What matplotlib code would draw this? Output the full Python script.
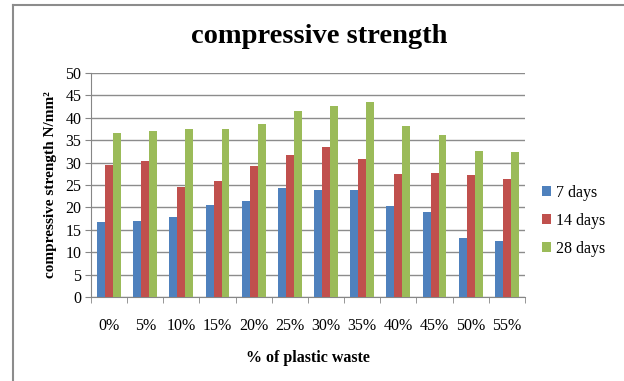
import numpy as np
import matplotlib.pyplot as plt
from matplotlib.lines import Line2D

# ----------------------------------
# Data
# ----------------------------------
categories = ["0%", "5%", "10%", "15%", "20%", "25%",
              "30%", "35%", "40%", "45%", "50%", "55%"]
days_7 = [16.8, 17.0, 17.9, 20.5, 21.4, 24.3, 23.9, 23.9, 20.3, 19.0, 13.2, 12.6]
days_14 = [29.5, 30.4, 24.6, 25.9, 29.3, 31.7, 33.5, 30.9, 27.5, 27.7, 27.2, 26.3]
days_28 = [36.7, 37.0, 37.6, 37.6, 38.7, 41.6, 42.6, 43.5, 38.2, 36.2, 32.7, 32.4]
series_labels = ["7 days", "14 days", "28 days"]
colors = ["#4F81BD", "#C0504D", "#9BBB59"]

plt.rcParams['font.family'] = ['Liberation Serif', 'DejaVu Serif']

fig = plt.figure(figsize=(6.24, 3.81), dpi=100)
ax = fig.add_axes([0.1458, 0.2205, 0.6955, 0.5879])

x = np.arange(len(categories))
width = 0.22
for i, (vals, lab, col) in enumerate(zip([days_7, days_14, days_28], series_labels, colors)):
    ax.bar(x + (i - 1) * width, vals, width, color=col, label=lab, zorder=3,
           edgecolor="none")

ax.set_xlim(-0.5, len(categories) - 0.5)
ax.set_ylim(0, 50)
ax.set_yticks(np.arange(0, 51, 5))
ax.set_xticks(x)
ax.set_xticklabels(categories)
ax.set_xticks(np.arange(-0.5, len(categories), 1), minor=True)
ax.tick_params(axis='x', which='major', length=0, pad=15, labelsize=11.5)
ax.tick_params(axis='x', which='minor', length=4, color="#868686", direction='out')
ax.tick_params(axis='y', length=4, color="#868686", labelsize=11.5, pad=3)

ax.grid(axis='y', color="#8c8c8c", linewidth=1.0, zorder=0)
for s in ["top", "right"]:
    ax.spines[s].set_visible(False)
for s in ["left", "bottom"]:
    ax.spines[s].set_color("#868686")

ax.set_xlabel("% of plastic waste", fontsize=11.5, fontweight='bold', labelpad=12)
ax.set_ylabel("compressive strength N/mm²", fontsize=11, fontweight='bold', labelpad=6)
fig.text(0.512, 0.905, "compressive strength", ha='center', va='center',
         fontsize=20.5, fontweight='bold')

ax.legend(loc='center left', bbox_to_anchor=(1.005, 0.34), frameon=False,
          fontsize=11.5, handlelength=0.6, handleheight=0.6, handletextpad=0.3,
          labelspacing=0.75)

# Outer frame (left and top edges)
fig.add_artist(Line2D([12.5 / 624, 12.5 / 624], [0, 1 - 4.5 / 381],
                      transform=fig.transFigure, color="#8c8c8c", linewidth=1.5))
fig.add_artist(Line2D([12.5 / 624, 1], [1 - 4.5 / 381, 1 - 4.5 / 381],
                      transform=fig.transFigure, color="#8c8c8c", linewidth=1.5))

fig.savefig("out.png", dpi=100)
